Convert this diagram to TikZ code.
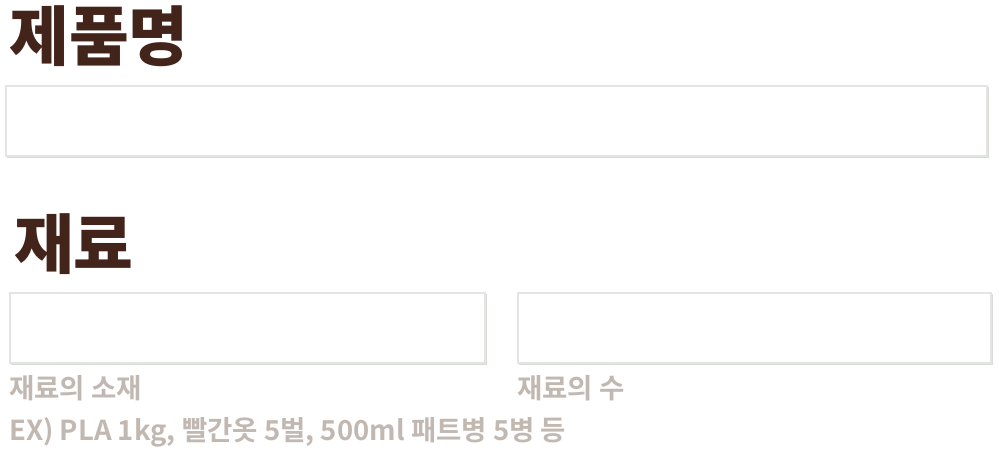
\documentclass[tikz,border=0pt]{standalone}
\usepackage{fontspec}
\newfontfamily\krfont{Noto Sans CJK KR}[BoldFont=* Bold]
\newfontfamily\krblack{Noto Sans CJK KR Black}
\definecolor{titlebrown}{HTML}{42241A}
\definecolor{labelgray}{HTML}{C2B8B2}
\definecolor{boxedge}{HTML}{E2E5E1}
\definecolor{boxshade}{HTML}{D8DCD6}
\begin{document}
\begin{tikzpicture}[x=1pt,y=-1pt,
  title/.style={anchor=base west,inner sep=0pt,font=\krblack\fontsize{65}{65}\selectfont,text=titlebrown},
  label/.style={anchor=base west,inner sep=0pt,font=\krfont\bfseries\fontsize{27.5}{27.5}\selectfont,text=labelgray},
  inputbox/.style={draw=boxedge,line width=1.4pt,fill=white}]
\useasboundingbox[fill=white] (0,0) rectangle (999,450);
\node[title] (t1) at (9,60) {제품명};
\draw[boxshade,line width=1.6pt] (7,157) -- (988,157) -- (988,87);
\draw[inputbox] (6,86) rectangle (987,156);
\node[title] (t2) at (14,268) {재료};
\draw[boxshade,line width=1.6pt] (11,364) -- (486,364) -- (486,294);
\draw[inputbox] (10,293) rectangle (485,363);
\draw[boxshade,line width=1.6pt] (519,364) -- (992,364) -- (992,294);
\draw[inputbox] (518,293) rectangle (991,363);
\node[label] (l1) at (9,398) {재료의 소재};
\node[label] (l2) at (517,398) {재료의 수};
\node[label] (l3) at (9,440) {EX) PLA 1kg, 빨간옷 5벌, 500ml 패트병 5병 등};
\end{tikzpicture}
\end{document}
